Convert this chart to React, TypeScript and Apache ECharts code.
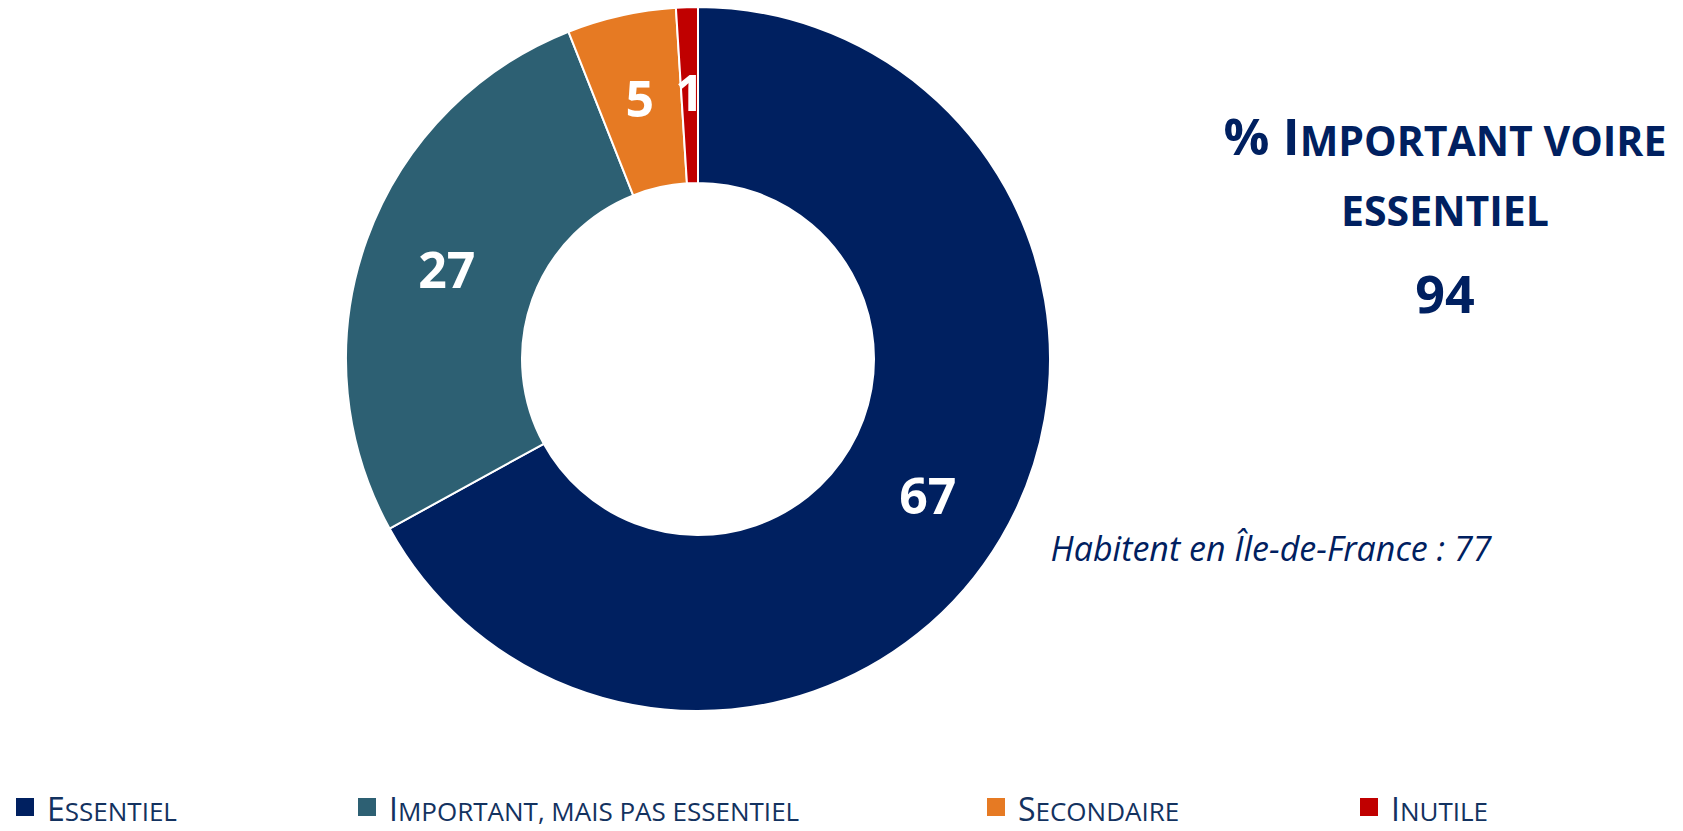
import React, { useEffect, useRef } from "react";
import * as echarts from "echarts";

const categories = ["Essentiel", "Important, mais pas essentiel", "Secondaire", "Inutile"];
const values = [67, 27, 5, 1];
const colors = ["#002060", "#2D6073", "#E67A23", "#C00000"];
const legendLefts = [16, 358, 987, 1360];
const totalImportant = 94;
const idfText = "Habitent en Île-de-France : 77";

const FONT = "'Open Sans', 'Noto Sans', sans-serif";

function smallCaps(s: string) {
  const first = s.charAt(0).toUpperCase();
  const rest = s.slice(1).toUpperCase();
  return `{s|}{a|${first}}{b|${rest}}`;
}

export default function App() {
  const ref = useRef<HTMLDivElement>(null);
  useEffect(() => {
    document.body.style.margin = "0";
    const chart = echarts.init(ref.current!, undefined, { renderer: "svg" });
    const legendColor = "#13325F";
    const legends = categories.map((c, i) => ({
      data: [c],
      left: legendLefts[i],
      top: 792,
      padding: 0,
      orient: "horizontal",
      icon: "rect",
      itemWidth: 18,
      itemHeight: 18,
      itemStyle: { borderWidth: 0 },
      selectedMode: false,
      formatter: (name: string) => smallCaps(name),
      textStyle: {
        color: legendColor,
        fontFamily: FONT,
        rich: {
          s: { width: 8, lineHeight: 34, verticalAlign: "bottom" },
          a: { fontSize: 32, lineHeight: 34, color: legendColor, fontFamily: FONT, verticalAlign: "bottom" },
          b: { fontSize: 26, lineHeight: 28, color: legendColor, fontFamily: FONT, verticalAlign: "bottom" },
        },
      },
    }));
    chart.setOption({
      animation: false,
      backgroundColor: "#ffffff",
      color: colors,
      legend: legends,
      graphic: [
        {
          type: "text",
          z: 100,
          style: {
            text: "{a|% I}{b|MPORTANT VOIRE}",
            x: 1445,
            y: 135,
            align: "center",
            verticalAlign: "middle",
            fill: "#002060",
            fontFamily: FONT,
            fontWeight: "bold",
            rich: {
              a: { fontSize: 51, fontWeight: "bold", fill: "#002060", fontFamily: FONT, verticalAlign: "bottom" },
              b: { fontSize: 41, fontWeight: "bold", fill: "#002060", fontFamily: FONT, verticalAlign: "bottom" },
            },
          },
        },
        {
          type: "text",
          z: 100,
          style: {
            text: "ESSENTIEL",
            x: 1445,
            y: 210,
            align: "center",
            verticalAlign: "middle",
            fill: "#002060",
            fontFamily: FONT,
            fontWeight: "bold",
            fontSize: 41,
          },
        },
        {
          type: "text",
          z: 100,
          style: {
            text: String(totalImportant),
            x: 1445,
            y: 292,
            align: "center",
            verticalAlign: "middle",
            fill: "#002060",
            fontFamily: FONT,
            fontWeight: "bold",
            fontSize: 52,
          },
        },
        {
          type: "text",
          z: 100,
          style: {
            text: idfText,
            x: 1271,
            y: 548,
            align: "center",
            verticalAlign: "middle",
            fill: "#002060",
            fontFamily: FONT,
            fontStyle: "italic",
            fontSize: 34,
          },
        },
      ],
      series: [
        {
          type: "pie",
          center: [698, 359],
          radius: [176, 352],
          startAngle: 90,
          clockwise: true,
          avoidLabelOverlap: false,
          itemStyle: { borderColor: "#ffffff", borderWidth: 2 },
          label: {
            show: true,
            position: "inside",
            formatter: "{c}",
            color: "#ffffff",
            fontFamily: FONT,
            fontWeight: "bold",
            fontSize: 50,
          },
          labelLine: { show: false },
          emphasis: { disabled: true },
          data: categories.map((c, i) => ({ name: c, value: values[i] })),
        },
      ],
    });
    return () => chart.dispose();
  }, []);
  return <div ref={ref} style={{ width: 1683, height: 831 }} />;
}
